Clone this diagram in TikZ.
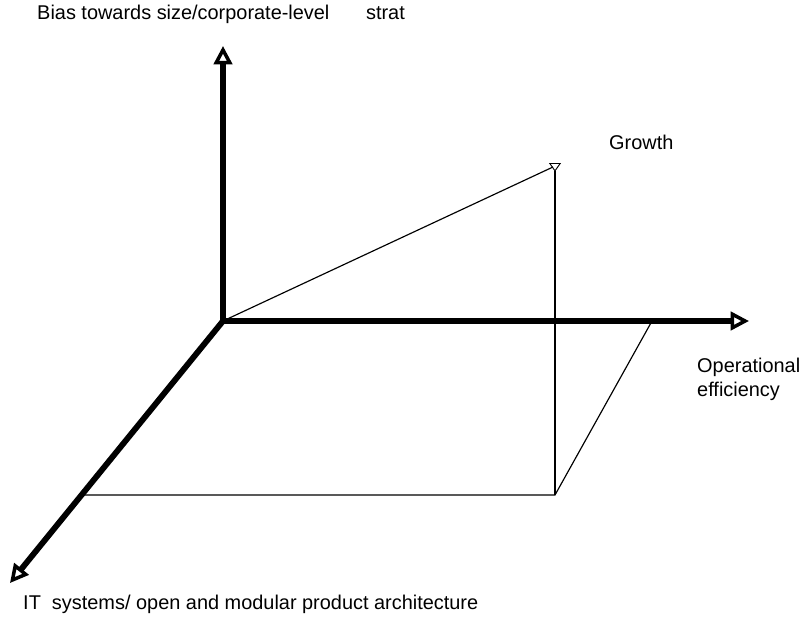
\documentclass[tikz,border=0pt]{standalone}
\usepackage{fontspec}
\setmainfont{Liberation Sans}
\usetikzlibrary{arrows.meta}

\tikzset{
  axis/.style={line width=5pt,-{Triangle[open,length=5.5mm,width=5.5mm,line width=3pt]}},
  guide/.style={line width=1pt},
  lbl/.style={font=\fontsize{17}{20}\selectfont,inner sep=0pt,anchor=base west}
}

\begin{document}
\begin{tikzpicture}[x=0.03cm,y=-0.03cm]

    \useasboundingbox (0,0) rectangle (805,619);

    % corner of the three axes and their far ends
    \coordinate (O) at (223,321);
    \coordinate (up) at (223,46);
    \coordinate (right) at (749,321);
    \coordinate (front) at (10,583);

    % growth point and its projection
    \coordinate (growth) at (555,163);
    \coordinate (foot) at (555,495);
    \coordinate (side) at (81,495);
    \coordinate (reach) at (652,321);

    \draw[guide] (O) -- (553,167);
    \draw[guide,{Triangle[open,reversed,length=2.6mm,width=3.6mm,line width=0.8pt]}-] (growth) -- (foot);
    \draw[guide] (side) -- (foot) -- (reach);

    \draw[axis] (O) -- (up);
    \draw[axis] (O) -- (right);
    \draw[axis] (O) -- (front);

    \node[lbl] (bias) at (37,20) {Bias towards size/corporate-level\hspace*{1.1cm}strat};
    \node[lbl] (grw) at (609,149) {Growth};
    \node[lbl] (op) at (697,372) {Operational};
    \node[lbl] (eff) at (697,396) {efficiency};
    \node[lbl] (it) at (23,609) {IT\ \ systems/ open and modular product architecture};

  \end{tikzpicture}
\end{document}
